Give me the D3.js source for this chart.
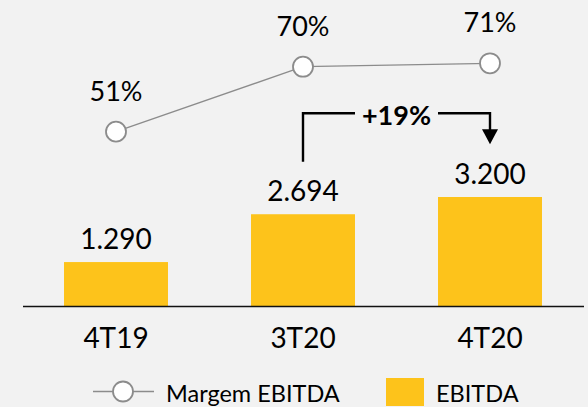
<!DOCTYPE html>
<html><head><meta charset="utf-8">
<script src="https://cdn.jsdelivr.net/npm/d3@7"></script>
<style>
html,body{margin:0;padding:0;background:#f2f2f2;}
svg{display:block;font-family:Lato,"Open Sans",sans-serif;}
</style></head><body>
<svg id="c" width="588" height="407"></svg>
<script>
const categories = ["4T19", "3T20", "4T20"];
const ebitda = [1290, 2694, 3200];
const ebitdaLabels = ["1.290", "2.694", "3.200"];
const margem = [0.51, 0.70, 0.71];
const margemLabels = ["51%", "70%", "71%"];
const growthLabel = "+19%";
const legendLabels = ["Margem EBITDA", "EBITDA"];

const svg = d3.select("#c");
const baseY = 306;
const x = d3.scaleBand().domain(categories).range([22.5, 583.5]).paddingInner(0.444).paddingOuter(0.222);
const yBar = d3.scaleLinear().domain([0, 3200]).range([baseY, 197]);
const yLine = d3.scaleLinear().domain([0, 0.71]).range([baseY, 63.3]);
const cx = c => x(c) + x.bandwidth() / 2;
const barColor = "#fdc31b";
const lineColor = "#8c8c8c";

// bars
svg.selectAll("rect.bar").data(categories).join("rect")
  .attr("class", "bar")
  .attr("x", d => x(d)).attr("width", x.bandwidth())
  .attr("y", (d, i) => yBar(ebitda[i]))
  .attr("height", (d, i) => baseY - yBar(ebitda[i]))
  .attr("fill", barColor);

svg.selectAll("text.val").data(categories).join("text")
  .attr("class", "val")
  .attr("x", d => cx(d)).attr("y", (d, i) => yBar(ebitda[i]) - 13)
  .attr("text-anchor", "middle").attr("font-size", 28).attr("fill", "#000")
  .text((d, i) => ebitdaLabels[i]);

// axis
const axis = svg.append("g").attr("transform", `translate(0,${baseY})`)
  .call(d3.axisBottom(x).tickSize(0).tickSizeOuter(0));
axis.select(".domain").attr("stroke", "#111").attr("stroke-width", 1.6);
axis.selectAll("text").attr("y", 42).attr("dy", 0)
  .attr("font-size", 28).attr("font-family", "Lato,'Open Sans',sans-serif").attr("fill", "#000");

// line
const line = d3.line().x((d, i) => cx(categories[i])).y(d => yLine(d));
svg.append("path").datum(margem).attr("d", line)
  .attr("fill", "none").attr("stroke", lineColor).attr("stroke-width", 1.3);
svg.selectAll("circle.pt").data(margem).join("circle")
  .attr("class", "pt")
  .attr("cx", (d, i) => cx(categories[i])).attr("cy", d => yLine(d))
  .attr("r", 10).attr("fill", "#fff").attr("stroke", lineColor).attr("stroke-width", 1.8);
svg.selectAll("text.pct").data(margem).join("text")
  .attr("class", "pct")
  .attr("x", (d, i) => cx(categories[i])).attr("y", d => yLine(d) - 31)
  .attr("text-anchor", "middle").attr("font-size", 27).attr("fill", "#000")
  .text((d, i) => margemLabels[i]);

// growth annotation
const ax1 = cx(categories[1]), ax2 = cx(categories[2]);
const ayTop = 113.3;
const ay1 = yBar(ebitda[1]) - 52.5;
const ayTip = yBar(ebitda[2]) - 52.7;
const g = svg.append("g").attr("stroke", "#000").attr("stroke-width", 2.4).attr("fill", "none");
g.append("path").attr("d", `M${ax1},${ay1}V${ayTop}H${ax1 + 52}`);
g.append("path").attr("d", `M${ax2 - 52},${ayTop}H${ax2}V${ayTip - 14}`);
svg.append("path").attr("d", `M${ax2 - 8},${ayTip - 15}L${ax2 + 8},${ayTip - 15}L${ax2},${ayTip}Z`).attr("fill", "#000");
svg.append("text").attr("x", (ax1 + ax2) / 2).attr("y", 124.5)
  .attr("text-anchor", "middle").attr("font-size", 27).attr("font-weight", "bold").attr("fill", "#000")
  .text(growthLabel);

// legend
const ly = 391.5;
svg.append("line").attr("x1", 93).attr("x2", 154).attr("y1", ly).attr("y2", ly)
  .attr("stroke", lineColor).attr("stroke-width", 1.3);
svg.append("circle").attr("cx", 123).attr("cy", ly).attr("r", 10)
  .attr("fill", "#fff").attr("stroke", lineColor).attr("stroke-width", 1.8);
svg.append("text").attr("x", 166).attr("y", 401.5).attr("font-size", 23.5).attr("fill", "#000").text(legendLabels[0]);
svg.append("rect").attr("x", 386).attr("y", 378).attr("width", 38).attr("height", 28).attr("fill", barColor);
svg.append("text").attr("x", 436).attr("y", 401.5).attr("font-size", 23.5).attr("fill", "#000").text(legendLabels[1]);
</script>
</body></html>
